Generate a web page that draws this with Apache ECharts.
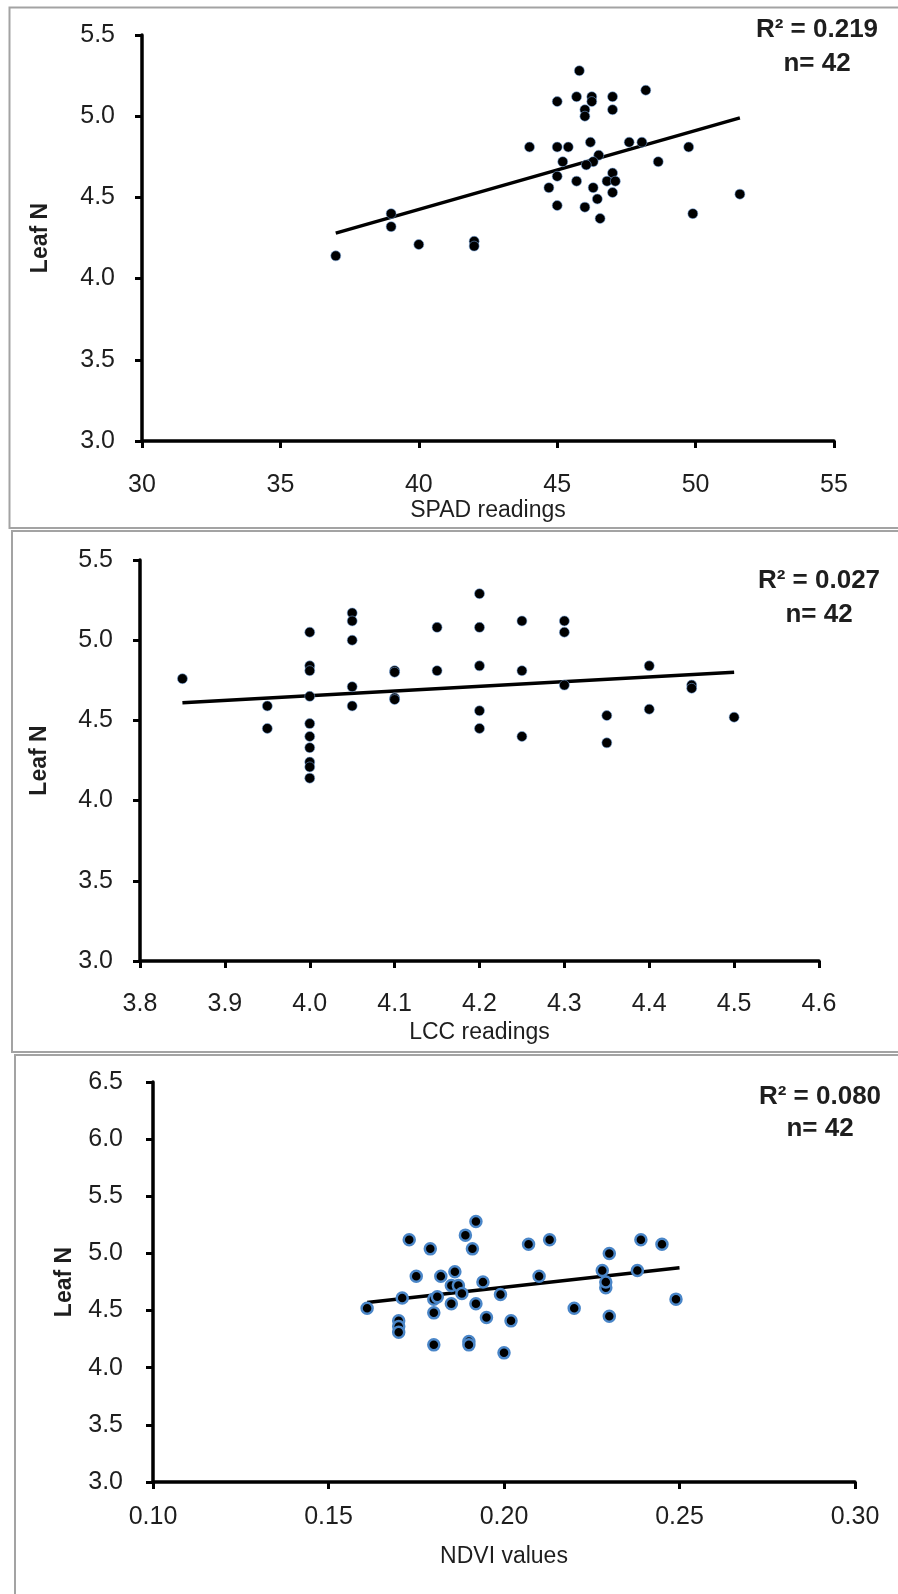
<!DOCTYPE html>
<html>
<head>
<meta charset="utf-8">
<script src="https://cdn.jsdelivr.net/npm/echarts@6/dist/echarts.min.js"></script>
<style>html,body{margin:0;padding:0;background:#fff;}#c{width:898px;height:1594px;}</style>
</head>
<body>
<div id="c"></div>
<script>
// ---- Panel 1: SPAD readings vs Leaf N ----
const spadX = [45.8,45.0,45.7,46.25,46.25,47.0,47.0,46.0,46.0,48.2,44.0,45.0,45.4,46.2,47.6,48.06,49.75,45.2,46.5,46.3,46.05,48.65,45.0,45.7,47.0,46.8,47.1,44.7,46.3,47.0,46.45,45.0,46.0,46.55,51.6,49.9,39.0,39.0,40.0,42.0,42.0,37.0];
const spadN = [5.28,5.09,5.12,5.12,5.09,5.12,5.04,5.04,5.00,5.16,4.81,4.81,4.81,4.84,4.84,4.84,4.81,4.72,4.76,4.72,4.70,4.72,4.63,4.60,4.65,4.60,4.60,4.56,4.56,4.53,4.49,4.45,4.44,4.37,4.52,4.40,4.40,4.32,4.21,4.23,4.20,4.14];
const spadTrendX = [37.0, 51.6];
const spadTrendY = [4.28, 4.99];
const spadStats = ["R\u00B2 = 0.219", "n= 42"];

// ---- Panel 2: LCC readings vs Leaf N ----
const lccX = [3.85,3.95,3.95,4.0,4.0,4.0,4.0,4.0,4.0,4.0,4.0,4.0,4.0,4.05,4.05,4.05,4.05,4.05,4.1,4.1,4.1,4.1,4.15,4.15,4.2,4.2,4.2,4.2,4.2,4.25,4.25,4.25,4.3,4.3,4.3,4.35,4.35,4.4,4.4,4.45,4.45,4.5];
const lccN = [4.76,4.59,4.45,5.05,4.84,4.81,4.65,4.48,4.40,4.33,4.24,4.21,4.14,5.17,5.12,5.00,4.71,4.59,4.81,4.80,4.64,4.63,5.08,4.81,5.29,5.08,4.84,4.56,4.45,5.12,4.81,4.40,5.12,5.05,4.72,4.53,4.36,4.84,4.57,4.72,4.70,4.52];
const lccTrendX = [3.85, 4.5];
const lccTrendY = [4.61, 4.80];
const lccStats = ["R\u00B2 = 0.027", "n= 42"];

// ---- Panel 3: NDVI values vs Leaf N ----
const ndviX = [0.161,0.171,0.170,0.170,0.170,0.173,0.175,0.179,0.182,0.180,0.180,0.180,0.186,0.185,0.187,0.188,0.185,0.189,0.192,0.191,0.194,0.192,0.190,0.190,0.195,0.199,0.200,0.202,0.207,0.213,0.210,0.220,0.228,0.230,0.229,0.229,0.230,0.238,0.239,0.245,0.249,0.181];
const ndviN = [4.52,4.61,4.41,4.36,4.31,5.12,4.80,5.04,4.80,4.60,4.48,4.20,4.84,4.72,4.72,4.65,4.56,5.16,5.28,5.04,4.75,4.56,4.23,4.20,4.44,4.64,4.13,4.41,5.08,5.12,4.80,4.52,4.85,5.00,4.70,4.75,4.45,4.85,5.12,5.08,4.60,4.62];
const ndviTrendX = [0.161, 0.25];
const ndviTrendY = [4.57, 4.875];
const ndviStats = ["R\u00B2 = 0.080", "n= 42"];

// ---- axis ranges / tick settings ----
const xRanges = [[30, 55, 5, 0], [3.8, 4.6, 0.1, 1], [0.10, 0.30, 0.05, 2]];
const yRanges = [[3.0, 5.5, 0.5, 1], [3.0, 5.5, 0.5, 1], [3.0, 6.5, 0.5, 1]];
const xNames = ["SPAD readings", "LCC readings", "NDVI values"];
const yName = "Leaf N";

const pairs = (xs, ys) => xs.map((x, i) => [x, ys[i]]);

const FONT = "'Liberation Sans', Arial, sans-serif";
const TXT = '#1e1e1e';

const grids = [
  {left: 142, right: 64, top: 35, height: 406},
  {left: 140, right: 79, top: 560, height: 401},
  {left: 153, right: 43, top: 1082, height: 400}
];
const xLabelMargin = [32, 31, 23];
const xNameGap = [56, 60, 63];
const yNameGap = [90, 89, 77];

const xAxes = xRanges.map((r, i) => ({
  gridIndex: i, type: 'value', min: r[0], max: r[1], interval: r[2],
  name: xNames[i], nameLocation: 'middle', nameGap: xNameGap[i],
  nameTextStyle: {fontFamily: FONT, fontSize: 23, color: TXT},
  splitLine: {show: false},
  axisLine: {show: true, onZero: false, lineStyle: {color: '#000', width: 3.5}},
  axisTick: {show: true, inside: false, length: 7, lineStyle: {color: '#000', width: 3}},
  axisLabel: {fontFamily: FONT, fontSize: 25, color: TXT, margin: xLabelMargin[i],
    formatter: v => Number(v).toFixed(r[3])}
}));
const yAxes = yRanges.map((r, i) => ({
  gridIndex: i, type: 'value', min: r[0], max: r[1], interval: r[2],
  name: yName, nameLocation: 'middle', nameGap: yNameGap[i], nameRotate: 90,
  nameTextStyle: {fontFamily: FONT, fontSize: 23, fontWeight: 'bold', color: TXT},
  splitLine: {show: false},
  axisLine: {show: true, onZero: false, lineStyle: {color: '#000', width: 3.5}},
  axisTick: {show: true, inside: false, length: 7, lineStyle: {color: '#000', width: 3}},
  axisLabel: {fontFamily: FONT, fontSize: 25, color: TXT, margin: i === 2 ? 30 : 27,
    formatter: v => Number(v).toFixed(r[3])}
}));

const dotStyle12 = {color: '#000', borderColor: 'rgba(120,170,230,0.55)', borderWidth: 1, opacity: 1};
const dotStyle3 = {color: '#000', borderColor: '#4a86c8', borderWidth: 2.5, opacity: 1};

const datasets = [
  [spadX, spadN, spadTrendX, spadTrendY, dotStyle12, 10],
  [lccX, lccN, lccTrendX, lccTrendY, dotStyle12, 10],
  [ndviX, ndviN, ndviTrendX, ndviTrendY, dotStyle3, 11]
];
const series = [];
datasets.forEach((d, i) => {
  series.push({type: 'line', xAxisIndex: i, yAxisIndex: i, data: pairs(d[2], d[3]),
    symbol: 'none', lineStyle: {color: '#000', width: 3.5}, z: 2, silent: true});
  series.push({type: 'scatter', xAxisIndex: i, yAxisIndex: i, data: pairs(d[0], d[1]),
    symbol: 'circle', symbolSize: d[5], itemStyle: d[4], z: 3});
});

const statPos = [[817, 30, 64], [819, 581, 615], [820, 1097, 1129]];
const statTexts = [spadStats, lccStats, ndviStats];
const graphic = [
  {type: 'rect', shape: {x: 9.5, y: 7.5, width: 900, height: 520.5}, style: {fill: 'none', stroke: '#a3a3a3', lineWidth: 2}, z: 0},
  {type: 'rect', shape: {x: 12, y: 531, width: 900, height: 521}, style: {fill: 'none', stroke: '#a3a3a3', lineWidth: 2}, z: 0},
  {type: 'rect', shape: {x: 15, y: 1055, width: 900, height: 600}, style: {fill: 'none', stroke: '#a3a3a3', lineWidth: 2}, z: 0}
];
statTexts.forEach((t, i) => {
  graphic.push({type: 'text', x: statPos[i][0], y: statPos[i][1],
    style: {text: t[0], font: "bold 26px 'Liberation Sans', Arial, sans-serif", fill: TXT, textAlign: 'center', textVerticalAlign: 'middle'}});
  graphic.push({type: 'text', x: statPos[i][0], y: statPos[i][2],
    style: {text: t[1], font: "bold 26px 'Liberation Sans', Arial, sans-serif", fill: TXT, textAlign: 'center', textVerticalAlign: 'middle'}});
});

const chart = echarts.init(document.getElementById('c'), null, {renderer: 'canvas'});
chart.setOption({
  animation: false,
  backgroundColor: '#fff',
  grid: grids,
  xAxis: xAxes,
  yAxis: yAxes,
  series: series,
  graphic: graphic
});
</script>
</body>
</html>
